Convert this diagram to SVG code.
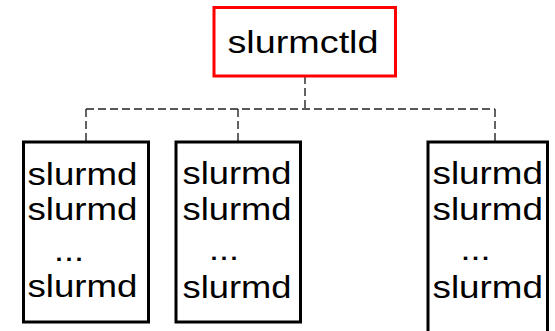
<svg xmlns="http://www.w3.org/2000/svg" width="555" height="331" viewBox="0 0 555 331">
  <style>
    .ctl { fill: #ffffff; stroke: #ff0000; stroke-width: 3; }
    .node { fill: #ffffff; stroke: #000000; stroke-width: 3; }
    .lbl { font-family: "Liberation Sans", Arial, sans-serif; font-size: 32px; fill: #000000; }
    .link { fill: none; stroke: #222222; stroke-width: 1.4; stroke-dasharray: 8 4; }
  </style>
  <rect width="555" height="331" fill="#ffffff"/>

  <!-- dashed tree connectors -->
  <g id="connectors">
    <path class="link" d="M305,76 V109"/>
    <path class="link" d="M86,109 H495"/>
    <path class="link" d="M86,109 V142"/>
    <path class="link" d="M238,109 V142"/>
    <path class="link" d="M495,109 V142"/>
  </g>

  <!-- controller daemon -->
  <g id="slurmctld">
    <rect class="ctl" x="214" y="7.5" width="181.5" height="68.5"/>
    <text class="lbl" x="227.5" y="52.5" textLength="151" lengthAdjust="spacingAndGlyphs">slurmctld</text>
  </g>

  <!-- compute node group 1 -->
  <g id="nodes-1">
    <rect class="node" x="23.5" y="142" width="125" height="180"/>
    <text class="lbl" x="27.5" y="185" textLength="110" lengthAdjust="spacingAndGlyphs">slurmd</text>
    <text class="lbl" x="27.5" y="219.5" textLength="110" lengthAdjust="spacingAndGlyphs">slurmd</text>
    <text class="lbl" x="54" y="261" textLength="30" lengthAdjust="spacingAndGlyphs">...</text>
    <text class="lbl" x="27.5" y="297" textLength="110" lengthAdjust="spacingAndGlyphs">slurmd</text>
  </g>

  <!-- compute node group 2 -->
  <g id="nodes-2">
    <rect class="node" x="176" y="142" width="124.5" height="180"/>
    <text class="lbl" x="182.5" y="183.5" textLength="109" lengthAdjust="spacingAndGlyphs">slurmd</text>
    <text class="lbl" x="182.5" y="219.5" textLength="109" lengthAdjust="spacingAndGlyphs">slurmd</text>
    <text class="lbl" x="209" y="259.5" textLength="30" lengthAdjust="spacingAndGlyphs">...</text>
    <text class="lbl" x="182.5" y="297.5" textLength="109" lengthAdjust="spacingAndGlyphs">slurmd</text>
  </g>

  <!-- compute node group 3 -->
  <g id="nodes-3">
    <rect class="node" x="428" y="142" width="119.5" height="200"/>
    <text class="lbl" x="432.5" y="183.5" textLength="110.5" lengthAdjust="spacingAndGlyphs">slurmd</text>
    <text class="lbl" x="432.5" y="220" textLength="110.5" lengthAdjust="spacingAndGlyphs">slurmd</text>
    <text class="lbl" x="460.5" y="259.5" textLength="30" lengthAdjust="spacingAndGlyphs">...</text>
    <text class="lbl" x="432.5" y="297.5" textLength="110.5" lengthAdjust="spacingAndGlyphs">slurmd</text>
  </g>
</svg>
